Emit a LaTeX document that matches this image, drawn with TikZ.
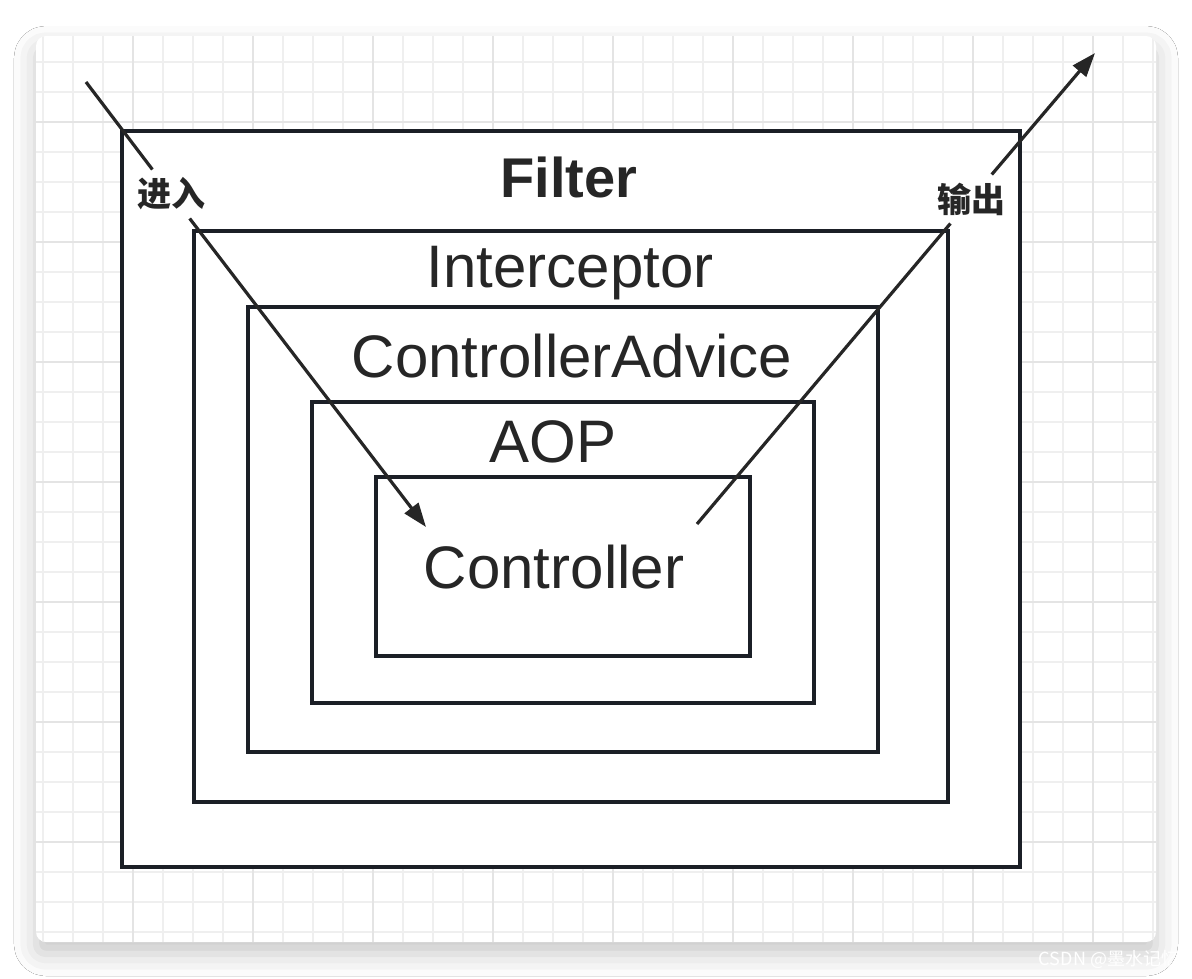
\documentclass[tikz,border=0pt]{standalone}
\usepackage{fontspec}
\setmainfont{Liberation Sans}
\newfontfamily\cjk{Noto Sans CJK SC}
\usetikzlibrary{arrows.meta,shadows.blur}
\definecolor{boxcol}{HTML}{1B1F26}
\definecolor{txtcol}{HTML}{262626}
\definecolor{gridminor}{HTML}{EFEFEF}
\definecolor{gridmajor}{HTML}{E4E4E4}

\begin{document}
\begin{tikzpicture}[x=1pt,y=-1pt,
    box/.style={draw=boxcol, line width=3.5pt, fill=white, inner sep=0pt},
    boxtext/.style={anchor=base, text=txtcol, inner sep=0pt, font=\fontsize{60}{60}\selectfont},
    cjklabel/.style={text=txtcol, inner sep=8pt, font=\cjk\bfseries\fontsize{34}{34}\selectfont},
    flow/.style={draw=txtcol, line width=3.2pt},
    flowtip/.style={flow, -{Triangle[length=24pt,width=17pt]}}]
  \useasboundingbox (0,0) rectangle (1192,978);
  \fill[white] (0,0) rectangle (1192,978);

  % card with grid
  \fill[white, rounded corners=10pt,
    blur shadow={shadow xshift=0pt, shadow yshift=-12pt, shadow blur radius=22pt, shadow opacity=22}]
    (36,36) rectangle (1156,942);
  \begin{scope}
    \clip[rounded corners=10pt] (36,36) rectangle (1156,942);
    \draw[gridminor, line width=2pt, step=30pt, shift={(13,2)}] (0,0) grid (1143,940);
    \draw[gridmajor, line width=2pt, step=120pt, shift={(13,2)}] (0,0) grid (1143,940);
  \end{scope}

  % nested boxes
  \node[box, minimum width=898pt, minimum height=736pt] (filter) at (571,499) {};
  \node[box, minimum width=754pt, minimum height=571pt] (interceptor) at (571,516.5) {};
  \node[box, minimum width=630pt, minimum height=445pt] (advice) at (563,529.5) {};
  \node[box, minimum width=502pt, minimum height=301pt] (aop) at (563,552.5) {};
  \node[box, minimum width=374pt, minimum height=179pt] (controller) at (563,566.5) {};

  \node[boxtext, font=\bfseries\fontsize{56}{56}\selectfont] (filterText) at (569,197) {Filter};
  \node[boxtext] (interceptorText) at (570,287) {Interceptor};
  \node[boxtext] (adviceText) at (572,377) {ControllerAdvice};
  \node[boxtext] (aopText) at (553,462) {AOP};
  \node[boxtext] (controllerText) at (554,588) {Controller};

  % request in and out
  \coordinate (inStart) at (86,82);
  \coordinate (inEnd) at (426,527);
  \coordinate (outStart) at (697,524);
  \coordinate (outEnd) at (1095,53);
  \node[cjklabel] (inLabel) at (171,194) {进入};
  \node[cjklabel] (outLabel) at (971,199) {输出};

  \draw[flow] (inStart) -- (inLabel);
  \draw[flowtip] (inLabel) -- (inEnd);
  \draw[flow] (outStart) -- (outLabel);
  \draw[flowtip] (outLabel) -- (outEnd);

  % watermark
  \node[text=white, inner sep=0pt, font=\cjk\fontsize{18}{18}\selectfont] (mark) at (1109,959) {CSDN @墨水记忆};
\end{tikzpicture}
\end{document}
